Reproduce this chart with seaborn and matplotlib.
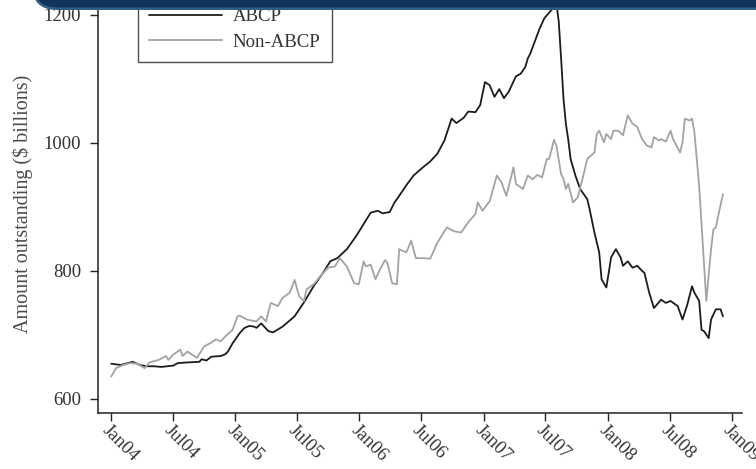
import numpy as np
import pandas as pd
import matplotlib
matplotlib.use("Agg")
import matplotlib.pyplot as plt
import matplotlib.dates as mdates
from matplotlib.patches import FancyBboxPatch
from matplotlib.transforms import Affine2D
import seaborn as sns

# Weekly commercial paper outstanding, $ billions (week 0 = first week of 2004)
abcp_week = [0, 4, 9, 12, 15, 18, 21, 26, 28, 32, 37, 38, 40, 42, 46, 48, 49, 51,
             54, 56, 58, 60, 61, 63, 66, 68, 72, 77, 81, 85, 89, 92, 95, 99, 103,
             106, 109, 112, 114, 117, 119, 120, 124, 127, 131, 134, 137, 140, 143,
             145, 148, 150, 153, 155, 157, 159, 161, 163, 165, 167, 170, 172, 174,
             175, 176, 180, 182, 185, 187, 188, 189, 190, 191, 192, 193, 195, 197,
             200, 201, 203, 205, 206, 208, 209, 210, 212, 214, 215, 217, 219, 221,
             223, 224, 226, 228, 231, 233, 235, 238, 240, 242, 244, 245, 247, 248,
             249, 251, 252, 254, 256, 257]
abcp_value = [655, 653, 658, 653, 651, 651, 650, 652, 656, 657, 658, 662, 660, 666,
              667, 670, 674, 687, 703, 711, 714, 713, 711, 718, 706, 704, 713, 729,
              751, 776, 797, 815, 820, 834, 855, 873, 891, 894, 890, 892, 907, 912,
              934, 949, 962, 971, 983, 1004, 1038, 1031, 1039, 1049, 1048, 1059,
              1095, 1090, 1072, 1084, 1070, 1080, 1104, 1108, 1119, 1132, 1139,
              1179, 1195, 1208, 1218, 1190, 1132, 1069, 1030, 1005, 975, 949, 928,
              912, 896, 860, 829, 787, 774, 797, 821, 834, 821, 808, 815, 805, 808,
              800, 797, 766, 742, 755, 750, 753, 745, 724, 747, 776, 766, 753, 708,
              706, 695, 724, 740, 740, 729]

nonabcp_week = [0, 2, 5, 8, 11, 14, 16, 20, 23, 24, 26, 29, 30, 32, 36, 39, 42, 44,
                46, 48, 51, 53, 54, 57, 61, 63, 65, 67, 70, 72, 75, 77, 79, 81, 82,
                85, 88, 91, 94, 96, 99, 102, 104, 106, 107, 109, 111, 113, 115, 116,
                118, 120, 121, 122, 124, 126, 128, 131, 134, 137, 141, 144, 147, 150,
                153, 154, 156, 159, 162, 164, 166, 169, 170, 173, 175, 177, 179, 181,
                183, 184, 186, 187, 189, 190, 191, 192, 194, 196, 198, 200, 203, 204,
                205, 207, 208, 210, 211, 213, 215, 217, 219, 221, 223, 225, 227, 228,
                230, 231, 233, 235, 236, 239, 240, 241, 243, 244, 245, 247, 250, 252,
                253, 254, 255, 257]
nonabcp_value = [635, 648, 653, 656, 655, 648, 657, 661, 667, 661, 669, 677, 667,
                 674, 664, 682, 688, 693, 690, 698, 708, 729, 730, 724, 721, 729, 721,
                 750, 745, 758, 766, 786, 760, 753, 771, 779, 792, 805, 807, 820, 807,
                 781, 779, 815, 807, 810, 787, 803, 817, 813, 781, 779, 834, 832, 829,
                 847, 820, 820, 819, 844, 868, 862, 860, 876, 889, 907, 894, 909, 949,
                 938, 917, 962, 936, 928, 949, 943, 950, 946, 975, 975, 1005, 996, 951,
                 944, 928, 936, 907, 915, 944, 975, 985, 1014, 1019, 1001, 1014, 1006,
                 1019, 1019, 1012, 1043, 1030, 1025, 1006, 996, 993, 1009, 1004, 1006,
                 1002, 1019, 1006, 985, 1001, 1038, 1035, 1038, 1017, 933, 753, 834,
                 865, 868, 886, 920]

series_names = ["ABCP", "Non-ABCP"]
tick_dates = pd.date_range("2004-01-01", "2009-01-01", freq="6MS")

start = pd.Timestamp("2004-01-02")
frames = []
for name, weeks, vals in [(series_names[0], abcp_week, abcp_value),
                          (series_names[1], nonabcp_week, nonabcp_value)]:
    frames.append(pd.DataFrame({
        "date": start + pd.to_timedelta(np.array(weeks) * 7, unit="D"),
        "amount": vals,
        "series": name,
    }))
df = pd.concat(frames, ignore_index=True)

sns.set_theme(style="ticks")
plt.rcParams["font.family"] = ["Liberation Serif", "DejaVu Serif"]

W, H = 756, 469
fig = plt.figure(figsize=(W / 100, H / 100), dpi=100)
fig.patch.set_facecolor("white")
ax = fig.add_axes([98 / W, 56 / H, 644 / W, 417.3 / H])

sns.lineplot(data=df, x="date", y="amount", hue="series",
             palette={"ABCP": "#1c1c1c", "Non-ABCP": "#a3a3a3"},
             linewidth=1.3, ax=ax, estimator=None, sort=True)

ax.set_xlim(pd.Timestamp("2003-11-24"), pd.Timestamp("2009-01-30"))
ax.set_ylim(578, 1230)
ax.set_yticks([600, 800, 1000, 1200])
ax.set_xticks(tick_dates)
ax.xaxis.set_major_formatter(mdates.DateFormatter("%b%y"))

sns.despine(ax=ax)
for side in ("left", "bottom"):
    ax.spines[side].set_color("#222222")
    ax.spines[side].set_linewidth(1.1)

ax.tick_params(axis="both", direction="out", length=6, width=1.0,
               color="#222222", labelcolor="#333333", labelsize=13.5)
ax.tick_params(axis="y", pad=6)
ax.tick_params(axis="x", pad=0)
for lbl in ax.get_xticklabels():
    lbl.set_rotation(-45)
    lbl.set_ha("left")
    lbl.set_va("top")
    lbl.set_rotation_mode("anchor")

ax.set_xlabel("")
ax.set_ylabel("Amount outstanding ($ billions)", fontsize=14.5, color="#4a4a4a",
              labelpad=8)

leg = ax.legend(loc="lower left", bbox_to_anchor=(40 / 644, 351 / 417.3),
                frameon=True, fancybox=False, fontsize=13.5, handlelength=3.9,
                handletextpad=0.55, labelspacing=0.45, borderpad=0.6,
                borderaxespad=0)
leg.get_frame().set_edgecolor("#222222")
leg.get_frame().set_linewidth(1.0)
for t in leg.get_texts():
    t.set_color("#333333")

# dark title band across the top
px = Affine2D().scale(1 / W, 1 / H) + fig.transFigure
band_low = FancyBboxPatch((32, 459), 800, 60,
                          boxstyle="round,pad=0,rounding_size=25",
                          transform=px, facecolor="#2f5f88", edgecolor="none",
                          zorder=20)
band_top = FancyBboxPatch((33, 461.5), 800, 60,
                          boxstyle="round,pad=0,rounding_size=25",
                          transform=px, facecolor="#11345a", edgecolor="none",
                          zorder=21)
fig.patches.extend([band_low, band_top])

fig.savefig("out.png", dpi=100)
